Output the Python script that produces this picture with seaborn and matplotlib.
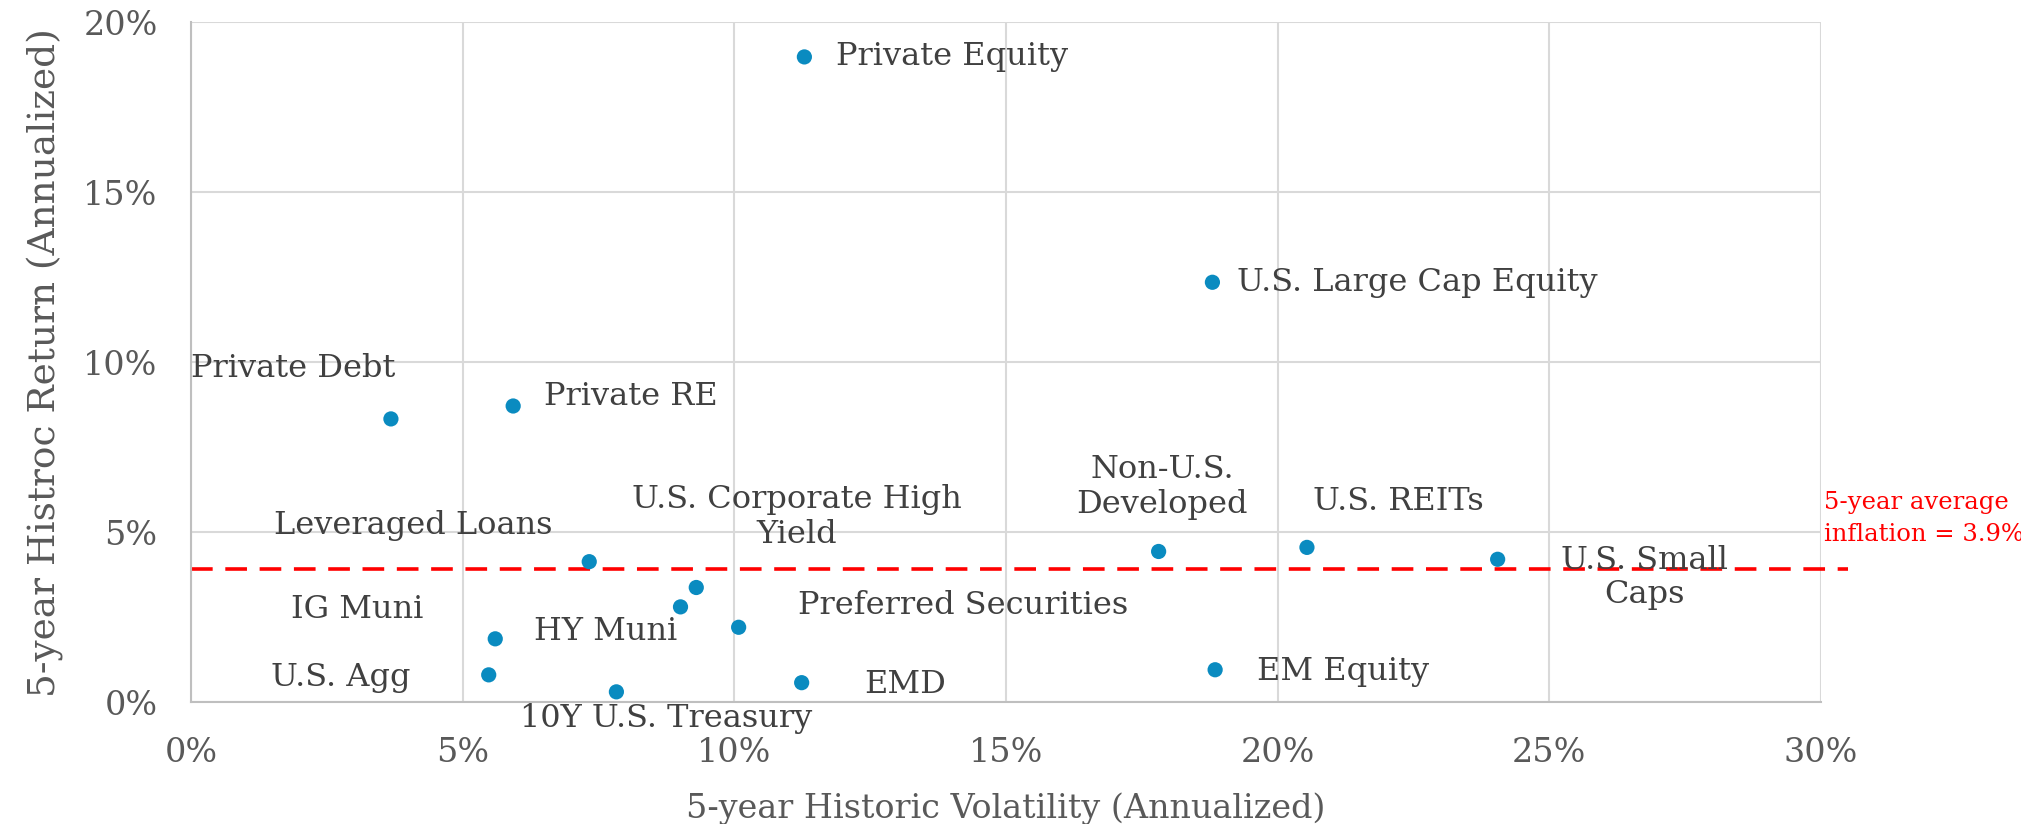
import pandas as pd
import matplotlib
matplotlib.use("Agg")
import matplotlib.pyplot as plt
import seaborn as sns
from matplotlib.ticker import FuncFormatter, MultipleLocator

# asset classes, 5y volatility and return (annualized, %)
assets = ["Private Equity", "U.S. Large Cap Equity", "Private Debt", "Private RE",
          "Leveraged Loans", "U.S. Corporate High\nYield", "HY Muni", "Preferred Securities",
          "IG Muni", "U.S. Agg", "10Y U.S. Treasury", "EMD", "EM Equity",
          "Non-U.S.\nDeveloped", "U.S. REITs", "U.S. Small\nCaps"]
volatility = [11.29, 18.80, 3.68, 5.93, 7.33, 9.30, 9.01, 10.08,
              5.60, 5.48, 7.83, 11.24, 18.85, 17.81, 20.54, 24.05]
returns = [18.98, 12.35, 8.33, 8.71, 4.13, 3.37, 2.80, 2.20,
           1.86, 0.80, 0.30, 0.57, 0.95, 4.43, 4.55, 4.20]
inflation = 3.9

# where each label sits (data coords) and how it is aligned
label_x = [11.88, 19.26, 0.0, 6.50, 4.10, 11.15, 7.64, 14.22,
           3.06, 2.75, 8.75, 13.14, 21.21, 17.88, 22.22, 26.75]
label_y = [18.98, 12.35, 9.81, 8.98, 5.19, 5.45, 2.08, 2.84,
           2.73, 0.72, -0.49, 0.53, 0.91, 6.33, 5.91, 3.66]
label_ha = ["left", "left", "left", "left", "center", "center", "center", "center",
            "center", "center", "center", "center", "center", "center", "center", "center"]

df = pd.DataFrame({"asset": assets, "vol": volatility, "ret": returns})

sns.set_style("white")
plt.rcParams["font.family"] = ["DejaVu Serif", "DejaVu Sans"]

text_col = "#404040"
tick_col = "#595959"
dot_col = "#0A8BC0"

fig = plt.figure(figsize=(20.21, 8.24), dpi=100)
ax = fig.add_axes([0.0945, 0.148, 0.8065, 0.825])

sns.scatterplot(data=df, x="vol", y="ret", ax=ax, color=dot_col, s=120,
                edgecolor="none", zorder=3, legend=False)

for lab, lx, ly, ha in zip(assets, label_x, label_y, label_ha):
    ax.text(lx, ly, lab, ha=ha, va="center", fontsize=23, color=text_col,
            multialignment="center", linespacing=1.15, zorder=4)

ax.plot([0, 30.5], [inflation, inflation], color="#FF0000", lw=2.6,
        dashes=(6, 3.5), clip_on=False, zorder=2)
ax.text(30.05, 5.4, "5-year average\ninflation = 3.9%", color="#FF0000",
        fontsize=17.5, ha="left", va="center", linespacing=1.45, clip_on=False)

ax.set_xlim(0, 30)
ax.set_ylim(0, 20)
ax.xaxis.set_major_locator(MultipleLocator(5))
ax.yaxis.set_major_locator(MultipleLocator(5))
pct = FuncFormatter(lambda v, p: f"{v:.0f}%")
ax.xaxis.set_major_formatter(pct)
ax.yaxis.set_major_formatter(pct)

ax.grid(True, color="#D9D9D9", lw=1.5)
ax.set_axisbelow(True)
for side in ["top", "right"]:
    ax.spines[side].set_visible(False)
for side in ["left", "bottom"]:
    ax.spines[side].set_color("#BFBFBF")
    ax.spines[side].set_linewidth(1.5)

ax.tick_params(axis="both", length=0, labelsize=24, labelcolor=tick_col)
ax.tick_params(axis="x", pad=25)
ax.tick_params(axis="y", pad=24)

ax.set_xlabel("5-year Historic Volatility (Annualized)", fontsize=24, color=tick_col, labelpad=17)
ax.set_ylabel("5-year Histroc Return (Annualized)", fontsize=27, color=tick_col, labelpad=14)

fig.savefig("out.png", dpi=100, facecolor="white")
